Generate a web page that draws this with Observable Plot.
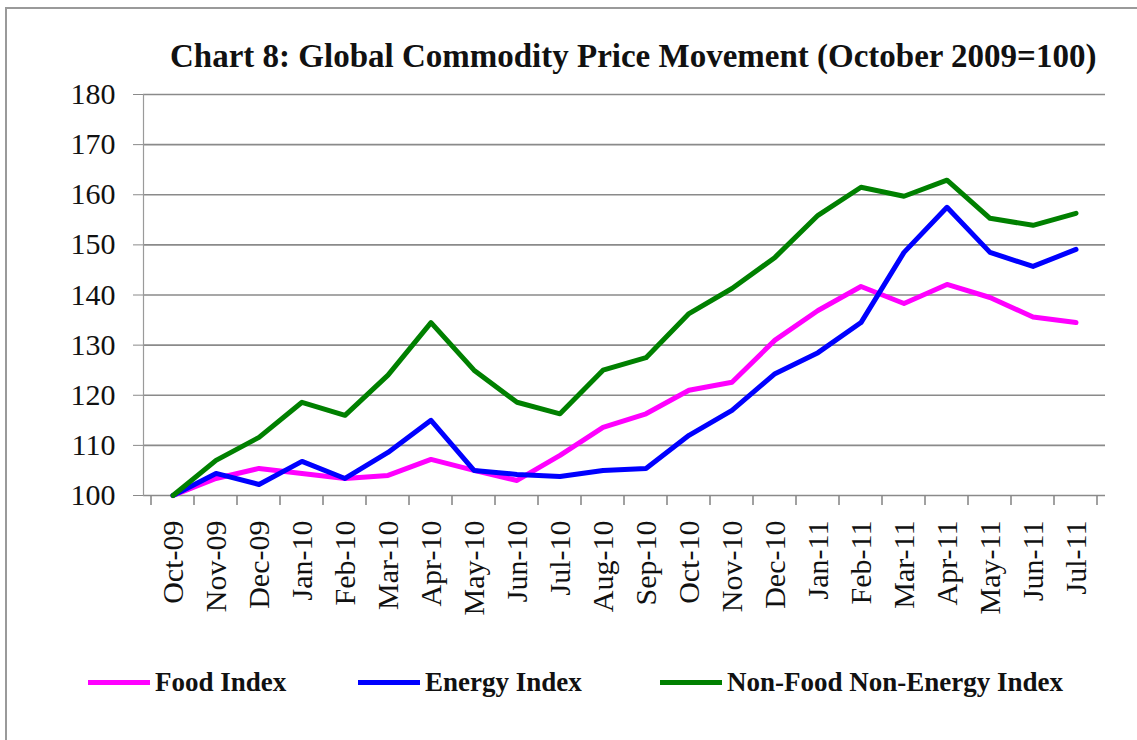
<!DOCTYPE html>
<html>
<head>
<meta charset="utf-8">
<script src="https://cdn.jsdelivr.net/npm/d3@7"></script>
<script src="https://cdn.jsdelivr.net/npm/@observablehq/plot@0.6"></script>
<style>
  html, body { margin: 0; padding: 0; background: #fff; overflow: hidden; }
  #wrap { position: relative; width: 1137px; height: 740px; overflow: hidden; background: #fff; }
  #frame { position: absolute; left: 5px; top: 7px; width: 1132px; height: 733px; border-left: 2px solid #9a9a9a; border-top: 2px solid #9a9a9a; box-sizing: border-box; }
  #title { position: absolute; left: 170px; top: 38px; font-family: "Liberation Serif", serif; font-weight: bold; font-size: 33px; color: #111; white-space: nowrap; }
  #chart { position: absolute; left: 0; top: 66px; }
  #legend { position: absolute; left: 0; top: 667px; width: 1137px; height: 40px; font-family: "Liberation Serif", serif; font-weight: bold; font-size: 27px; color: #111; }
  .item { position: absolute; top: 0; display: flex; align-items: center; white-space: nowrap; }
  .swatch { display: inline-block; width: 62px; height: 5px; margin-right: 5px; }
</style>
</head>
<body>
<div id="wrap">
  <div id="frame"></div>
  <div id="title">Chart 8: Global Commodity Price Movement (October 2009=100)</div>
  <div id="chart"></div>
  <div id="legend"></div>
</div>
<script>
const months = ["Oct-09","Nov-09","Dec-09","Jan-10","Feb-10","Mar-10","Apr-10","May-10","Jun-10","Jul-10","Aug-10","Sep-10","Oct-10","Nov-10","Dec-10","Jan-11","Feb-11","Mar-11","Apr-11","May-11","Jun-11","Jul-11"];
const foodIndex = [100,103.4,105.4,104.4,103.4,104.0,107.2,105.0,103.0,108.0,113.6,116.3,121.0,122.6,131.0,136.9,141.7,138.3,142.1,139.5,135.6,134.5];
const energyIndex = [100,104.4,102.2,106.8,103.4,108.6,115.0,105.0,104.2,103.8,105.0,105.4,112.0,117.0,124.3,128.5,134.5,148.5,157.5,148.5,145.7,149.1];
const nonFoodNonEnergyIndex = [100,107.0,111.6,118.6,116.0,124.0,134.5,125.0,118.6,116.3,125.0,127.5,136.3,141.3,147.5,155.9,161.5,159.7,162.9,155.3,153.9,156.3];
const seriesNames = ["Food Index","Energy Index","Non-Food Non-Energy Index"];
const seriesColors = ["#ff00ff","#0000ff","#008000"];
const yTicks = [100,110,120,130,140,150,160,170,180];

const seriesValues = [foodIndex, energyIndex, nonFoodNonEnergyIndex];
const rows = [];
seriesNames.forEach((name, s) => {
  months.forEach((m, i) => rows.push({series: name, month: m, value: seriesValues[s][i]}));
});

const plot = Plot.plot({
  width: 1137,
  height: 570,
  marginLeft: 143,
  marginRight: 32,
  marginTop: 28,
  marginBottom: 141,
  style: {background: "transparent", fontFamily: "Liberation Serif, serif", color: "#111", overflow: "visible"},
  x: {type: "band", domain: months, paddingInner: 0, paddingOuter: 0, label: null},
  y: {domain: [100, 180], label: null},
  color: {domain: seriesNames, range: seriesColors},
  marks: [
    Plot.ruleY(yTicks, {stroke: "#8a8a8a", strokeWidth: 1.6}),
    Plot.frame({anchor: "left", stroke: "#9a9a9a", strokeWidth: 1.2}),
    Plot.axisY(yTicks, {tickSize: 10, tickPadding: 18, stroke: "#8a8a8a", fontSize: 30, label: null, tickFormat: d => String(d)}),
    Plot.axisX({tickSize: 0, tickPadding: 25, tickRotate: -90, fontSize: 30, label: null}),
    Plot.line(rows, {x: "month", y: "value", z: "series", stroke: "series", strokeWidth: 5, strokeLinejoin: "round", strokeLinecap: "round"})
  ]
});
document.getElementById("chart").appendChild(plot);

// Category boundary tick marks below the x axis (Excel style), from the band scale
const xs = plot.scale("x");
const ys = plot.scale("y");
const yBase = ys.apply(100);
const bounds = months.map(m => xs.apply(m)).concat([xs.apply(months[months.length - 1]) + xs.bandwidth]);
d3.select(plot).append("g")
  .attr("stroke", "#8a8a8a").attr("stroke-width", 1.6)
  .selectAll("line").data(bounds).join("line")
  .attr("x1", d => d).attr("x2", d => d)
  .attr("y1", yBase).attr("y2", yBase + 10);

// Legend
const legendX = [88, 358, 660];
const legend = document.getElementById("legend");
seriesNames.forEach((name, i) => {
  const item = document.createElement("div");
  item.className = "item";
  item.style.left = legendX[i] + "px";
  const sw = document.createElement("span");
  sw.className = "swatch";
  sw.style.background = seriesColors[i];
  const tx = document.createElement("span");
  tx.textContent = name;
  item.appendChild(sw);
  item.appendChild(tx);
  legend.appendChild(item);
});
</script>
</body>
</html>
